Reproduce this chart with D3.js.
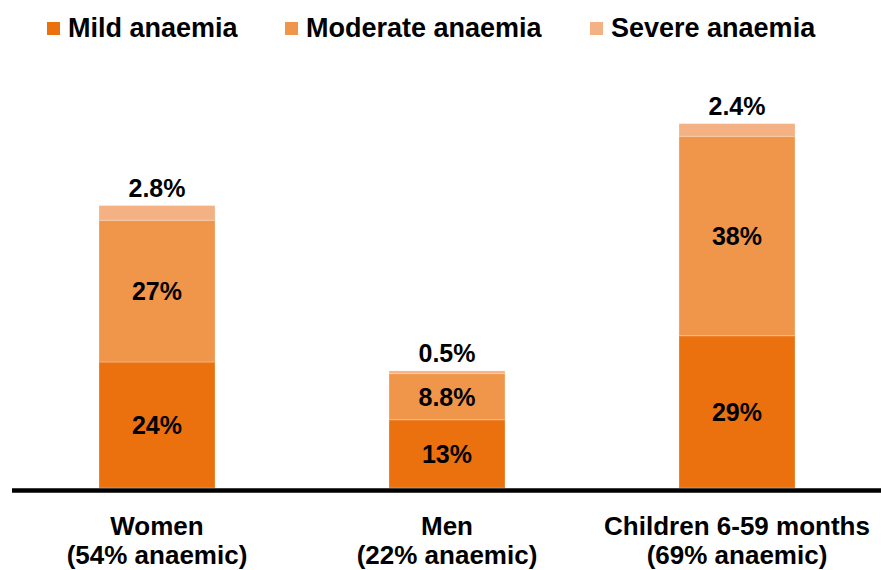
<!DOCTYPE html>
<html>
<head>
<meta charset="utf-8">
<script src="https://cdn.jsdelivr.net/npm/d3@7"></script>
<style>
  body { margin: 0; background: #fff; }
  text { font-family: "Liberation Sans", Arial, sans-serif; font-weight: bold; fill: #000; }
</style>
</head>
<body>
<svg width="881" height="570"></svg>
<script>
// categories (two-line labels)
var categories = ['Women', 'Men', 'Children 6-59 months'];
var subLabels = ['(54% anaemic)', '(22% anaemic)', '(69% anaemic)'];

// series values, bottom to top
var seriesNames = ['Mild anaemia', 'Moderate anaemia', 'Severe anaemia'];
var mild = [24, 13, 29];
var moderate = [27, 8.8, 38];
var severe = [2.8, 0.5, 2.4];

// labels shown on the segments
var mildLabels = ['24%', '13%', '29%'];
var moderateLabels = ['27%', '8.8%', '38%'];
var severeLabels = ['2.8%', '0.5%', '2.4%'];

var colors = ['#EB710F', '#F0964A', '#F4B183'];

var svg = d3.select('svg'),
	width = +svg.attr('width'),
	height = +svg.attr('height');

// build rows for the stack
var rows = categories.map(function(c, i) {
	return { cat: c, mild: mild[i], moderate: moderate[i], severe: severe[i] };
});
var keys = ['mild', 'moderate', 'severe'];
var labels = { mild: mildLabels, moderate: moderateLabels, severe: severeLabels };

var stack = d3.stack().keys(keys)(rows);

var x = d3.scaleBand()
	.domain(categories)
	.range([12, 882])
	.paddingInner(0.6)
	.paddingOuter(0.3);

var y = d3.scaleLinear()
	.domain([0, 80])
	.range([488, 68]);

// bars
var layers = svg.selectAll('g.layer')
	.data(stack)
	.enter().append('g')
	.attr('class', 'layer')
	.attr('fill', function(d, i) { return colors[i]; });

layers.selectAll('rect')
	.data(function(d) { return d; })
	.enter().append('rect')
	.attr('x', function(d) { return x(d.data.cat); })
	.attr('width', x.bandwidth())
	.attr('y', function(d) { return y(d[1]); })
	.attr('height', function(d) { return y(d[0]) - y(d[1]); })
	.attr('stroke', '#fff')
	.attr('stroke-opacity', 0.25)
	.attr('stroke-width', 1);

// value labels: inside mild & moderate, above severe
stack.forEach(function(layer) {
	var key = layer.key;
	svg.selectAll(null)
		.data(layer)
		.enter().append('text')
		.attr('x', function(d) { return x(d.data.cat) + x.bandwidth() / 2; })
		.attr('y', function(d) {
			if (key === 'severe') return y(d[1]) - 9;
			return (y(d[0]) + y(d[1])) / 2;
		})
		.attr('dy', key === 'severe' ? 0 : '0.36em')
		.attr('text-anchor', 'middle')
		.style('font-size', '25px')
		.text(function(d, i) { return labels[key][i]; });
});

// baseline
svg.append('line')
	.attr('x1', 12).attr('x2', width)
	.attr('y1', 490.5).attr('y2', 490.5)
	.attr('stroke', '#000')
	.attr('stroke-width', 4.5);

// category labels
var catG = svg.selectAll('g.cat')
	.data(categories)
	.enter().append('g')
	.attr('class', 'cat')
	.attr('transform', function(d) { return 'translate(' + (x(d) + x.bandwidth() / 2) + ',0)'; });

catG.append('text')
	.attr('y', 535)
	.attr('text-anchor', 'middle')
	.style('font-size', '26px')
	.text(function(d) { return d; });

catG.append('text')
	.attr('y', 564)
	.attr('text-anchor', 'middle')
	.style('font-size', '26px')
	.text(function(d, i) { return subLabels[i]; });

// legend
var legendX = [47, 285, 590];
var legend = svg.selectAll('g.legend')
	.data(seriesNames)
	.enter().append('g')
	.attr('class', 'legend')
	.attr('transform', function(d, i) { return 'translate(' + legendX[i] + ',0)'; });

legend.append('rect')
	.attr('x', 0).attr('y', 22)
	.attr('width', 13).attr('height', 13)
	.attr('fill', function(d, i) { return colors[i]; });

legend.append('text')
	.attr('x', 21)
	.attr('y', 37)
	.style('font-size', '27px')
	.text(function(d) { return d; });
</script>
</body>
</html>
